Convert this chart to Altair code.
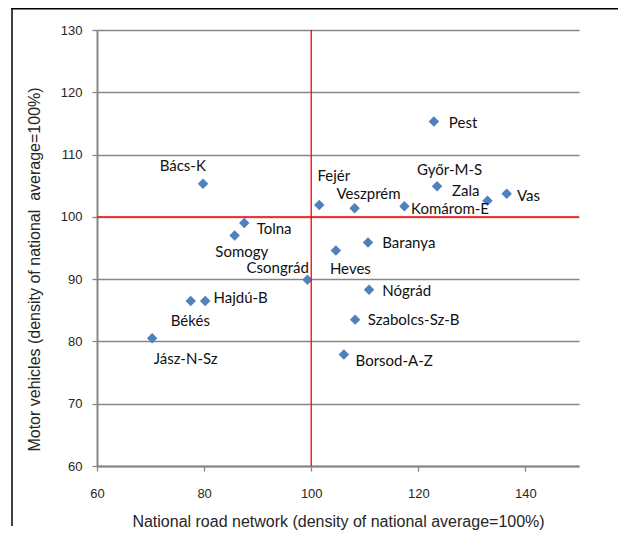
import altair as alt
import pandas as pd

# ---- data ----
counties = ["Pest", "Győr-M-S", "Zala", "Vas", "Fejér", "Veszprém", "Komárom-E",
            "Baranya", "Heves", "Bács-K", "Tolna", "Somogy", "Csongrád", "Hajdú-B",
            "Békés", "Jász-N-Sz", "Nógrád", "Szabolcs-Sz-B", "Borsod-A-Z"]
road_density = [122.9, 123.5, 132.9, 136.5, 101.5, 108.1, 117.4,
                110.6, 104.6, 79.8, 87.5, 85.7, 99.3, 80.2,
                77.5, 70.3, 110.8, 108.2, 106.1]
vehicle_density = [115.3, 104.9, 102.6, 103.7, 101.9, 101.4, 101.7,
                   95.9, 94.6, 105.3, 99.0, 97.0, 89.9, 86.5,
                   86.5, 80.5, 88.3, 83.5, 77.9]
x_ticks = [60, 80, 100, 120, 140]
y_ticks = [60, 70, 80, 90, 100, 110, 120, 130]
ref_x = [100]
ref_y = [100]

x_title = "National road network (density of national average=100%)"
y_title = "Motor vehicles (density of national\u00a0 average=100%)"

# label placement (pixel offsets from the marker, alignment)
label_layout = {
    "Pest": (15, 1, "left"),
    "Győr-M-S": (12.5, -16, "center"),
    "Zala": (-21.7, -10, "center"),
    "Vas": (10.3, 2, "left"),
    "Fejér": (14.5, -28.6, "center"),
    "Veszprém": (14, -14.4, "center"),
    "Komárom-E": (6.7, 2.3, "left"),
    "Baranya": (14.3, 1, "left"),
    "Heves": (14.5, 18.6, "center"),
    "Bács-K": (-20.3, -17.6, "center"),
    "Tolna": (12.4, 6.3, "left"),
    "Somogy": (7.2, 16.3, "center"),
    "Csongrád": (-29.8, -11.5, "center"),
    "Hajdú-B": (8.3, -2.7, "left"),
    "Békés": (-0.4, 19.7, "center"),
    "Jász-N-Sz": (33.5, 20.3, "center"),
    "Nógrád": (13.3, 1.4, "left"),
    "Szabolcs-Sz-B": (12.7, 0.7, "left"),
    "Borsod-A-Z": (11.7, 6.7, "left"),
}

df = pd.DataFrame({"county": counties, "road": road_density, "vehicles": vehicle_density})

AXIS_FONT = "Liberation Sans"
LABEL_FONT = "Lato"
GRAY = "#868686"
W, H = 482, 436

x_scale = alt.Scale(domain=[60, 150], nice=False, zero=False)
y_scale = alt.Scale(domain=[60, 130], nice=False, zero=False)

x_axis = alt.Axis(
    values=x_ticks, grid=False, domainColor=GRAY, domainWidth=2,
    tickColor=GRAY, tickSize=5, tickWidth=1.3,
    labelFont=AXIS_FONT, labelFontSize=13, labelColor="#262626", labelPadding=16,
    labelFlush=False, labelOverlap=False,
    title=x_title, titleFont=AXIS_FONT, titleFontSize=16, titleFontWeight="normal",
    titleColor="#262626", titleX=W / 2, titleY=55.5, titleAlign="center",
    titleBaseline="middle",
)
y_axis = alt.Axis(
    values=y_ticks, grid=True, gridColor=GRAY, gridWidth=1.3,
    domainColor=GRAY, domainWidth=2, tickColor=GRAY, tickSize=5, tickWidth=1.3,
    labelFont=AXIS_FONT, labelFontSize=13, labelColor="#262626", labelPadding=10,
    labelFlush=False, labelOverlap=False,
    title=y_title, titleFont=AXIS_FONT, titleFontSize=16, titleFontWeight="normal",
    titleColor="#262626", titleX=-63, titleY=239, titleAngle=270,
    titleAlign="center", titleBaseline="middle",
)

base = alt.Chart(df)

points = base.mark_point(shape="diamond", filled=True, size=110, color="#4F81BD",
                         opacity=1).encode(
    x=alt.X("road:Q", scale=x_scale, axis=x_axis),
    y=alt.Y("vehicles:Q", scale=y_scale, axis=y_axis),
)

vline = alt.Chart(pd.DataFrame({"road": ref_x})).mark_rule(
    color="#FF0000", strokeWidth=1.3).encode(x=alt.X("road:Q", scale=x_scale))
hline = alt.Chart(pd.DataFrame({"vehicles": ref_y})).mark_rule(
    color="#FF0000", strokeWidth=1.3).encode(y=alt.Y("vehicles:Q", scale=y_scale))

label_layers = []
for name, (dx, dy, align) in label_layout.items():
    label_layers.append(
        base.transform_filter(alt.datum.county == name).mark_text(
            font=LABEL_FONT, fontSize=15, color="#111111", align=align,
            baseline="middle", dx=dx, dy=dy,
        ).encode(
            x=alt.X("road:Q", scale=x_scale),
            y=alt.Y("vehicles:Q", scale=y_scale),
            text="county:N",
        )
    )

one = pd.DataFrame({"a": [0]})
frame_left = alt.Chart(one).mark_rule(color="#000000", strokeWidth=1.5).encode(
    x=alt.value(-85), y=alt.value(-22), y2=alt.value(H + 60))
frame_top = alt.Chart(one).mark_rule(color="#000000", strokeWidth=1.5).encode(
    x=alt.value(-85.75), x2=alt.value(W + 40), y=alt.value(-21.25))

chart = alt.layer(points, vline, hline, *label_layers, frame_left, frame_top).properties(
    width=W, height=H,
    autosize=alt.AutoSizeParams(type="none"),
    padding={"left": 89, "top": 22, "right": 39, "bottom": 67},
).configure_view(strokeWidth=0)

chart.save("out.html", embed_options={"renderer": "svg", "actions": False})
